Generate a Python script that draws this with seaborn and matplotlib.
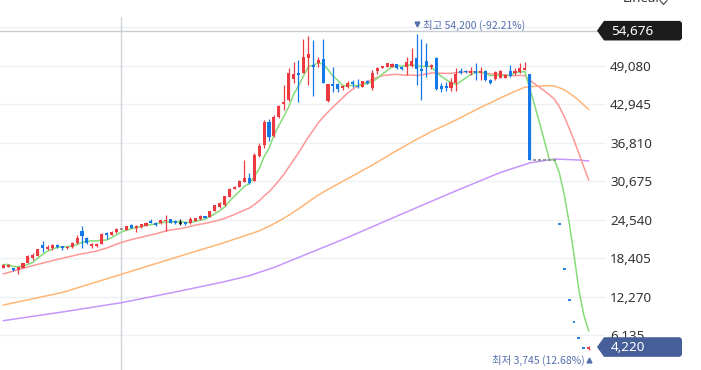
import numpy as np
import pandas as pd
import matplotlib
matplotlib.use("Agg")
import matplotlib.pyplot as plt
import matplotlib.transforms as mtrans
from matplotlib.patches import Polygon
from matplotlib.lines import Line2D
import seaborn as sns

# daily candles, oldest first (KRW)
opens = [16870, 17030, 16780, 16510, 16830, 17670, 18370, 18790, 20490, 19860,
         20060, 20490, 20380, 19940, 20130, 20810, 22770, 21560, 20330, 20330,
         20650, 22330, 22090, 22520, 23000, 22890, 23640, 23130, 23370, 23600,
         24400, 24080, 24000, 24400, 24640, 24400, 24080, 24110, 24000, 24320,
         24590, 25120, 24960, 25920, 26560, 26870, 28150, 29430, 29820, 30620,
         31130, 30750, 34690, 36440, 40160, 37880, 40910, 42980, 43620, 46970,
         47930, 47930, 50270, 49200, 49520, 50160, 43540, 46120, 46120, 45540,
         45690, 46540, 45930, 45690, 46730, 45490, 48290, 48770, 48930, 48930,
         49320, 48930, 48930, 49040, 50320, 48490, 49920, 48810, 50240, 45930,
         45930, 45610, 46330, 48250, 48290, 47880, 48250, 47880, 48250, 46890,
         46970, 47080, 47080, 48250, 47880, 48140, 48410, 47770, 34100, 34100,
         34100, 34100, 34100, 23870, 16710, 11700, 8190, 5730, 4010, 3850]
highs = [17540, 17540, 16830, 17060, 17700, 18900, 19170, 19860, 21130, 20490,
         20700, 20610, 20410, 20380, 20920, 22090, 23520, 21770, 20860, 20810,
         22360, 22620, 22730, 23250, 23000, 23600, 23840, 23640, 23920, 24160,
         24720, 24160, 24560, 25200, 24720, 24480, 24590, 24160, 24880, 24800,
         25200, 25170, 25970, 26870, 27350, 28310, 29510, 29900, 30860, 34130,
         31930, 35090, 36810, 40430, 40540, 41230, 42820, 46010, 48680, 49680,
         50000, 53350, 53830, 53190, 50530, 53350, 46220, 48930, 46330, 46010,
         46730, 46890, 47020, 46730, 46810, 48360, 48930, 49090, 49520, 49480,
         49360, 49040, 50480, 51870, 54200, 53350, 52790, 49440, 50400, 46330,
         46490, 47050, 48680, 48650, 48410, 48930, 49480, 48930, 48410, 46970,
         48290, 48410, 47690, 49200, 48680, 49570, 49730, 47770, 34100, 34100,
         34100, 34100, 34100, 23870, 16710, 11700, 8190, 5730, 4010, 4390]
lows = [16750, 16990, 16350, 15790, 16750, 17620, 18100, 18740, 19430, 19740,
        19740, 20060, 19740, 19810, 19970, 20650, 20060, 20610, 19970, 20100,
        20610, 21450, 22010, 22360, 23000, 22810, 23130, 22570, 23210, 23520,
        24000, 23600, 23920, 22730, 24000, 23920, 23760, 23760, 23920, 24270,
        24560, 24750, 24910, 25840, 26400, 26790, 28070, 29350, 29750, 30540,
        30220, 30700, 34580, 35920, 37130, 37770, 40750, 42030, 43460, 46330,
        43300, 47850, 46010, 44180, 48930, 46290, 43350, 44900, 44950, 45140,
        45490, 45650, 45580, 45650, 46220, 45140, 47770, 48680, 48810, 48890,
        48570, 48410, 47610, 48930, 46010, 43620, 47210, 48570, 45220, 44900,
        45060, 44980, 45060, 47690, 47930, 47610, 46810, 46810, 46650, 46170,
        46810, 47050, 47050, 47240, 47610, 47880, 48360, 34100, 34100, 34100,
        34100, 34100, 34100, 23870, 16710, 11700, 8190, 5730, 4010, 3745]
closes = [17380, 17380, 16430, 16910, 17580, 18740, 18900, 19810, 19970, 20180,
          20490, 20130, 20060, 20250, 20770, 21560, 21980, 20770, 20700, 20700,
          22250, 22010, 22620, 23000, 23000, 23520, 23250, 23520, 23800, 24080,
          24050, 23760, 24480, 24560, 24080, 24000, 24080, 23810, 24590, 24750,
          25120, 24800, 25870, 26830, 27150, 28230, 29430, 29820, 30700, 31100,
          30340, 34850, 36280, 40160, 37770, 40860, 42660, 43380, 47880, 47770,
          47610, 50480, 50960, 48810, 50000, 46410, 46120, 45850, 45380, 45850,
          46330, 46250, 45650, 46650, 46290, 47930, 48770, 49040, 49480, 49320,
          48680, 48570, 49680, 49840, 48520, 48170, 48890, 49280, 45380, 45300,
          45460, 46570, 47770, 47850, 48040, 48290, 47880, 48290, 46890, 46290,
          48140, 48290, 47610, 47500, 48290, 48680, 48680, 34100, 34100, 34100,
          34100, 34100, 34100, 23870, 16710, 11700, 8190, 5730, 4010, 4220]

# start of the longer averages lies before the first visible candle ->
ma20_head_idx = [0, 5, 10, 15]
ma20_head = [15870, 17000, 18010, 18930]
ma60_head_idx = [0, 12, 24, 36, 44, 50, 52, 54, 56, 58]
ma60_head = [10920, 12920, 15820, 18740, 20650, 22200, 22750, 23480, 24300, 25220]
ma120_idx = [0, 12, 24, 36, 45, 50, 55, 60, 70, 80, 91, 101, 107, 112, 117, 119]
ma120 = [8420, 9810, 11290, 13160, 14650, 15600, 16900, 18500, 21700, 25100,
         28800, 32050, 33580, 34210, 34050, 33890]

ytick_vals = [6135, 12270, 18405, 24540, 30675, 36810, 42945, 49080]
grid_vals = ytick_vals + [55215]
cross_price = 54676
cursor_idx = 24
last_price = 4220
hi_idx, hi_price, hi_label = 84, 54200, "최고 54,200 (-92.21%)"
lo_idx, lo_price, lo_label = 119, 3745, "최저 3,745 (12.68%)"

RED, BLUE = "#ec3a40", "#1677e8"
W, H = 701, 370

sns.set_theme(style="white")
plt.rcParams["font.family"] = ["Noto Sans", "DejaVu Sans"]
cjk = ["Noto Sans CJK KR", "DejaVu Sans"]

df = pd.DataFrame({"o": opens, "h": highs, "l": lows, "c": closes})
df["i"] = np.arange(len(df))

fig = plt.figure(figsize=(W / 100, H / 100), dpi=100)
ax = fig.add_axes([0, 0, 606 / W, 1 - 17 / H])
ax.set_xlim(-0.67, 122.5)
ax.set_ylim(556, 56859)

for v in grid_vals:
    ax.axhline(v, color="#eef0f3", lw=1, zorder=0)
ax.axvline(cursor_idx, color="#cfd3d9", lw=1, zorder=1)
ax.axhline(cross_price, xmax=597 / 606, color="#c9cdd3", lw=1, zorder=1)

# moving averages
ma5 = df.c.rolling(5, min_periods=1).mean()
ma20_tail = df.c.rolling(20).mean().iloc[19:]
ma60_tail = df.c.rolling(60).mean().iloc[59:]
sns.lineplot(x=ma120_idx, y=ma120, ax=ax, color="#c596fb", lw=1.1, zorder=2)
sns.lineplot(x=ma60_head_idx + list(ma60_tail.index), y=ma60_head + list(ma60_tail.values),
             ax=ax, color="#ffb676", lw=1.1, zorder=2)
sns.lineplot(x=ma20_head_idx + list(ma20_tail.index), y=ma20_head + list(ma20_tail.values),
             ax=ax, color="#ff9797", lw=1.1, zorder=2)
sns.lineplot(x=df.i, y=ma5, ax=ax, color="#86dc78", lw=1.1, zorder=2)

# candles
prev = df.c.shift(1).fillna(df.c)
for r, p in zip(df.itertuples(), prev):
    if r.c != r.o:
        col = RED if r.c > r.o else BLUE
        ax.vlines(r.i, r.l, r.h, color=col, lw=0.9, zorder=3)
        ax.bar(r.i, abs(r.c - r.o), bottom=min(r.o, r.c), width=0.62,
               color=col, linewidth=0, zorder=4)
    elif r.h > r.l:
        ax.vlines(r.i, r.l, r.h, color="#111111", lw=0.9, zorder=3)
        ax.hlines(r.c, r.i - 0.35, r.i + 0.35, color="#111111", lw=1.1, zorder=4)
    else:
        col = BLUE if r.c < p else (RED if r.c > p else "#8c8c8c")
        ax.hlines(r.c, r.i - 0.3, r.i + 0.3, color=col, lw=1.3, zorder=4)

# high / low markers
ann = "#5570ad"
up = mtrans.offset_copy(ax.transData, fig=fig, x=0, y=10, units="dots")
ax.plot(hi_idx, hi_price, marker="v", ms=3.5, color=ann, transform=up, zorder=5)
ax.annotate(hi_label, (hi_idx, hi_price), xytext=(4.5, 6), textcoords="offset points",
            ha="left", va="center", fontsize=7.5, color=ann, family=cjk, zorder=5)
dn = mtrans.offset_copy(ax.transData, fig=fig, x=0, y=-10, units="dots")
ax.plot(lo_idx, lo_price, marker="^", ms=3.5, color=ann, transform=dn, zorder=5)
ax.annotate(lo_label, (lo_idx, lo_price), xytext=(-3, -7.5), textcoords="offset points",
            ha="right", va="center", fontsize=7.5, color=ann, family=cjk, zorder=5)

# axes styling
sns.despine(ax=ax, left=True, bottom=True, right=True, top=True)
ax.set_xticks([])
ax.yaxis.tick_right()
ax.set_yticks(ytick_vals)
ax.set_yticklabels([f"{v:,}" for v in ytick_vals])
ax.tick_params(axis="y", length=0, pad=2.9, labelsize=9.7, labelcolor="#333333")
ax.set_xlabel("")
ax.set_ylabel("")


def fx(x):
    return x / W


def fy(y):
    return 1 - y / H


def price_tag(y, text, col):
    pts = [(597, y), (604, y - 9.8), (680, y - 9.8), (682, y - 7.8),
           (682, y + 7.8), (680, y + 9.8), (604, y + 9.8)]
    fig.patches.append(Polygon([(fx(a), fy(b)) for a, b in pts], closed=True,
                               transform=fig.transFigure, facecolor=col,
                               edgecolor="none", zorder=10))
    fig.text(fx(611), fy(y + 0.5), text, color="white", fontsize=9.7,
             va="center", ha="left", zorder=11)


ypx = lambda v: (59571 - v) / 159.5
price_tag(ypx(cross_price), f"{cross_price:,}", "#1c1c1c")
price_tag(ypx(last_price), f"{last_price:,}", "#475f98")

fig.text(fx(623), fy(-1), "Linear", fontsize=9.5, color="#333333", va="center", ha="left")
fig.lines.append(Line2D([fx(660), fx(663.5), fx(667)], [fy(0.5), fy(4.5), fy(0.5)],
                        transform=fig.transFigure, color="#555555", lw=0.9))

fig.savefig("out.png", dpi=100)
